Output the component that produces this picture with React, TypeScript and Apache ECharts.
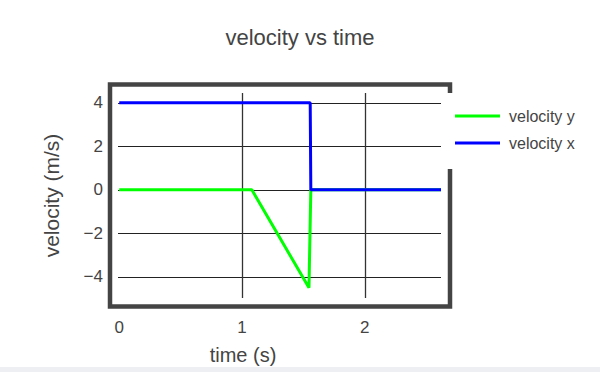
import React, { useEffect, useRef } from "react";
import * as echarts from "echarts";

const titleText = "velocity vs time";
const xName = "time (s)";
const yName = "velocity (m/s)";
const seriesNames = ["velocity y", "velocity x"];
const velocityY: [number, number][] = [
  [0, 0],
  [1.08, 0],
  [1.545, -4.5],
  [1.56, 0],
  [2.62, 0],
];
const velocityX: [number, number][] = [
  [0, 4],
  [1.555, 4],
  [1.56, 0],
  [2.62, 0],
];
const xTickLabels = [0, 1, 2];
const xGridValues = [1, 2];
const yTickValues = [-4, -2, 0, 2, 4];

const FONT = "Liberation Sans, Arial, sans-serif";
const TEXT = "#444";

export default function App() {
  const ref = useRef<HTMLDivElement>(null);
  useEffect(() => {
    if (!ref.current) return;
    const chart = echarts.init(ref.current, undefined, { renderer: "svg" });
    chart.setOption({
      animation: false,
      backgroundColor: "#fff",
      title: {
        text: titleText,
        left: "center",
        top: 26,
        padding: 0,
        textStyle: { fontFamily: FONT, fontSize: 22, fontWeight: "normal", color: TEXT },
      },
      legend: {
        orient: "vertical",
        left: 447,
        top: 93,
        padding: [14, 20, 17, 8],
        backgroundColor: "#fff",
        icon: "rect",
        itemWidth: 45,
        itemHeight: 3,
        itemGap: 9,
        data: seriesNames,
        textStyle: {
          fontFamily: FONT,
          fontSize: 16,
          color: TEXT,
          lineHeight: 18,
          padding: [0, 0, 0, 4],
        },
        z: 10,
      },
      grid: { left: 118, right: 159, top: 93, bottom: 74, containLabel: false },
      xAxis: {
        type: "value",
        min: -0.01,
        max: 2.62,
        name: xName,
        nameLocation: "middle",
        nameGap: 47,
        nameTextStyle: { fontFamily: FONT, fontSize: 20, color: TEXT, padding: [0, 73, 0, 0] },
        axisLine: { show: false },
        axisTick: { show: false, customValues: xGridValues },
        axisLabel: {
          customValues: xTickLabels,
          margin: 21,
          fontFamily: FONT,
          fontSize: 17,
          color: TEXT,
        },
        splitLine: { show: true, lineStyle: { color: "#333", width: 1.3 } },
      },
      yAxis: {
        type: "value",
        min: -4.97,
        max: 4.45,
        name: yName,
        nameLocation: "middle",
        nameGap: 56,
        nameTextStyle: { fontFamily: FONT, fontSize: 21, color: TEXT },
        axisLine: { show: false },
        axisTick: { show: false, customValues: yTickValues },
        axisLabel: {
          customValues: yTickValues,
          margin: 15,
          fontFamily: FONT,
          fontSize: 17,
          color: TEXT,
          formatter: (v: number) => String(v).replace("-", "\u2212"),
        },
        splitLine: { show: true, lineStyle: { color: "#222", width: 1.2 } },
      },
      graphic: [
        {
          type: "rect",
          z: 1,
          shape: { x: 110, y: 84.5, width: 340, height: 222 },
          style: { fill: "none", stroke: "#444", lineWidth: 4.5 },
        },
        {
          type: "rect",
          z: 1,
          shape: { x: 0, y: 367, width: 600, height: 5 },
          style: { fill: "#eeeff2" },
        },
      ],
      series: [
        {
          name: seriesNames[0],
          type: "line",
          data: velocityY,
          symbol: "none",
          lineStyle: { color: "#00ff00", width: 3 },
          itemStyle: { color: "#00ff00" },
          z: 3,
        },
        {
          name: seriesNames[1],
          type: "line",
          data: velocityX,
          symbol: "none",
          lineStyle: { color: "#0000ff", width: 3 },
          itemStyle: { color: "#0000ff" },
          z: 4,
        },
      ],
    });
    return () => chart.dispose();
  }, []);
  return (
    <div
      ref={ref}
      style={{ position: "fixed", left: 0, top: 0, width: 600, height: 372 }}
    />
  );
}
